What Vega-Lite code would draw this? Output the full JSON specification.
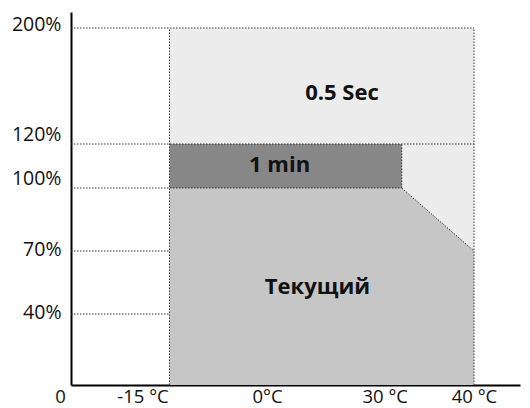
{
  "$schema": "https://vega.github.io/schema/vega-lite/v6.json",
  "autosize": "none",
  "width": 449,
  "height": 373,
  "padding": {"left": 71, "top": 12, "right": 10, "bottom": 23},
  "background": "white",
  "config": {"view": {"stroke": null}},
  "layer": [
    {
      "data": {"values": [{"t1": -15, "t2": 40, "p1": 0, "p2": 200}]},
      "mark": {"type": "rect", "color": "#ececec"},
      "encoding": {
        "x": {"field": "t1", "type": "quantitative",
          "scale": {"domain": [-30, -15, 0, 30, 40, 52], "range": [0, 98.5, 197, 330.7, 403, 449], "nice": false, "zero": false, "clamp": false},
          "axis": {
            "title": null,
            "values": [-30, -15, 0, 30, 40],
            "labelExpr": "datum.value == -30 ? '0' : datum.value == -15 ? '-15 °C' : datum.value == 0 ? '0°C' : datum.value == 30 ? '30 °C' : '40 °C'",
            "labelOffset": {"condition": [
              {"test": "datum.value == -30", "value": -11},
              {"test": "datum.value == -15", "value": -27},
              {"test": "datum.value == 0", "value": -1},
              {"test": "datum.value == 30", "value": -17}
            ], "value": 0},
            "grid": false, "ticks": false,
            "domainColor": "#000000", "domainWidth": 2,
            "labelFont": "Open Sans", "labelFontSize": 18.5, "labelColor": "#111111",
            "labelBaseline": "middle",
            "labelPadding": 11, "labelFlush": false, "labelOverlap": false
          }
        },
        "x2": {"field": "t2"},
        "y": {"field": "p1", "type": "quantitative",
          "scale": {"domain": [0, 40, 70, 100, 120, 200, 211], "range": [373, 302, 239, 176, 132, 16, 0], "nice": false, "zero": false},
          "axis": {
            "title": null,
            "values": [40, 70, 100, 120, 200],
            "labelExpr": "datum.value + '%'",
            "labelOffset": {"condition": [
              {"test": "datum.value == 120 || datum.value == 100", "value": -10},
              {"test": "datum.value == 200", "value": -4}
            ], "value": -2},
            "grid": false, "ticks": false,
            "domainColor": "#000000", "domainWidth": 2,
            "labelFont": "Open Sans", "labelFontSize": 19.5, "labelColor": "#111111",
            "labelPadding": 10, "labelFlush": false, "labelOverlap": false
          }
        },
        "y2": {"field": "p2"}
      }
    },
    {
      "data": {"values": [{"t": -15, "p": 100}, {"t": 30, "p": 100}, {"t": 40, "p": 70}]},
      "mark": {"type": "area", "color": "#c6c6c6", "interpolate": "linear"},
      "encoding": {
        "x": {"field": "t", "type": "quantitative"},
        "y": {"field": "p", "type": "quantitative"},
        "y2": {"datum": 0}
      }
    },
    {
      "data": {"values": [{"t1": -15, "t2": 30, "p1": 100, "p2": 120}]},
      "mark": {"type": "rect", "color": "#878787"},
      "encoding": {
        "x": {"field": "t1", "type": "quantitative"},
        "x2": {"field": "t2"},
        "y": {"field": "p1", "type": "quantitative"},
        "y2": {"field": "p2"}
      }
    },
    {
      "data": {"values": [
        {"t1": -30, "t2": 40, "p1": 200, "p2": 200},
        {"t1": -30, "t2": 40, "p1": 120, "p2": 120},
        {"t1": -30, "t2": 30, "p1": 100, "p2": 100},
        {"t1": -30, "t2": -15, "p1": 70, "p2": 70},
        {"t1": -30, "t2": -15, "p1": 40, "p2": 40},
        {"t1": -15, "t2": -15, "p1": 0, "p2": 200},
        {"t1": 40, "t2": 40, "p1": 0, "p2": 200},
        {"t1": 30, "t2": 30, "p1": 100, "p2": 120},
        {"t1": 30, "t2": 40, "p1": 100, "p2": 70}
      ]},
      "mark": {"type": "rule", "color": "#333333", "strokeWidth": 1, "strokeDash": [1.5, 1.5]},
      "encoding": {
        "x": {"field": "t1", "type": "quantitative"},
        "x2": {"field": "t2"},
        "y": {"field": "p1", "type": "quantitative"},
        "y2": {"field": "p2"}
      }
    },
    {
      "data": {"values": [
        {"t": 16.6, "p": 155, "label": "0.5 Sec"},
        {"t": 2.6, "p": 110.5, "label": "1 min"},
        {"t": 11.1, "p": 53, "label": "Текущий"}
      ]},
      "mark": {"type": "text", "font": "Open Sans", "fontWeight": "bold", "fontSize": 22, "color": "#111111", "align": "center", "baseline": "middle"},
      "encoding": {
        "x": {"field": "t", "type": "quantitative"},
        "y": {"field": "p", "type": "quantitative"},
        "text": {"field": "label"}
      }
    }
  ]
}
